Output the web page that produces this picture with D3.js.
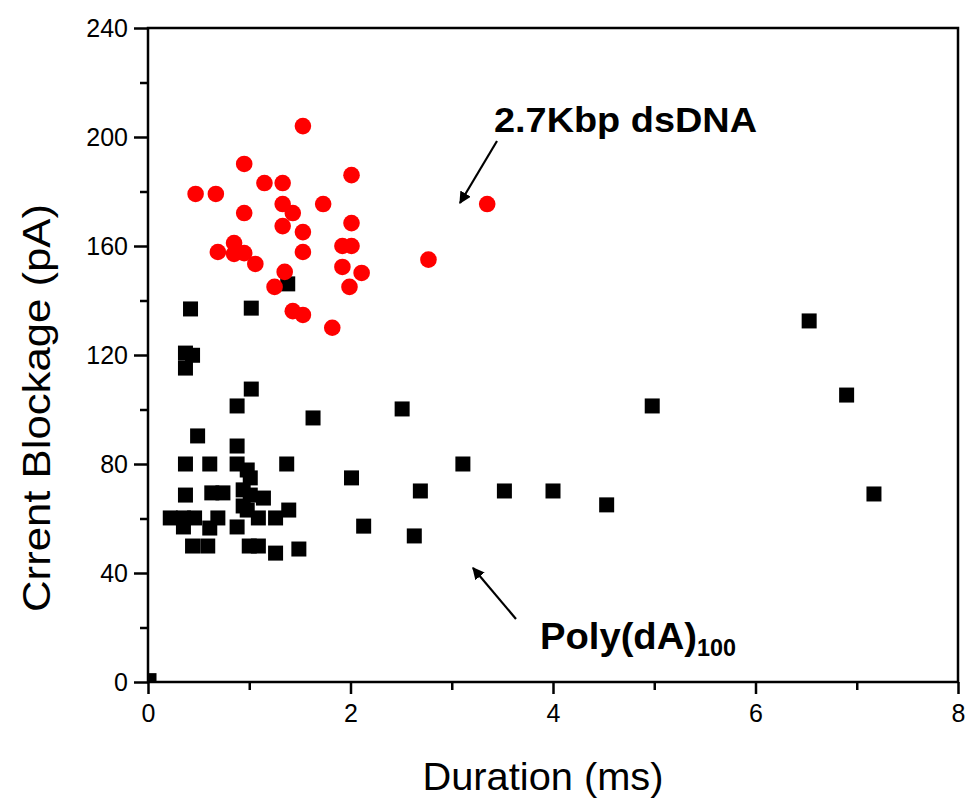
<!DOCTYPE html>
<html>
<head>
<meta charset="utf-8">
<script src="https://cdn.jsdelivr.net/npm/d3@7"></script>
<style>
  html, body { margin: 0; padding: 0; background: #fff; }
  svg { display: block; }
  text { font-family: "Liberation Sans", Arial, sans-serif; fill: #000; }
</style>
</head>
<body>
<div id="chart"></div>
<script>
// Event durations (ms) and current blockages (pA) for each analyte
const dsDNA_duration = [1.53, 0.95, 1.15, 1.33, 0.47, 0.67, 2.01, 1.33, 1.43, 1.73, 0.95, 1.33, 1.53, 2.01,
  0.69, 0.85, 0.85, 0.95, 1.06, 1.53, 1.92, 2.01, 1.92, 2.11, 1.99, 1.35, 1.25, 1.43, 1.53, 1.82, 2.77, 3.35];
const dsDNA_blockage = [204.0, 190.1, 183.1, 183.1, 179.1, 179.1, 186.0, 175.4, 172.1, 175.4, 172.1, 167.3, 165.1, 168.4,
  157.8, 161.1, 157.1, 157.4, 153.4, 157.8, 160.0, 160.0, 152.3, 150.1, 145.0, 150.5, 145.0, 136.1, 134.7, 130.0, 155.0, 175.4];

const polyA_duration = [0.42, 1.02, 1.38, 0.37, 0.44, 0.37, 1.02, 0.88, 1.63, 2.51, 0.49, 0.88, 0.37, 0.61, 0.88,
  0.98, 1.01, 1.37, 3.11, 2.01, 0.37, 0.63, 0.74, 0.94, 1.01, 1.14, 0.94, 0.22, 0.35, 0.46, 0.69, 0.35, 0.61,
  0.88, 0.98, 1.09, 1.26, 1.39, 2.13, 2.69, 2.63, 0.44, 0.59, 1.00, 1.09, 1.26, 1.49,
  3.52, 4.00, 4.53, 4.98, 6.53, 6.90, 7.17, 0.01];
const polyA_blockage = [136.9, 137.2, 146.1, 120.7, 119.9, 115.2, 107.5, 101.3, 96.9, 100.2, 90.3, 86.6, 80.0, 80.0, 80.0,
  77.8, 74.9, 80.0, 80.0, 74.9, 68.6, 69.4, 69.4, 70.5, 68.6, 67.5, 64.6, 60.2, 60.2, 60.2, 60.2, 56.9, 56.5,
  56.9, 63.1, 60.2, 60.2, 63.1, 57.2, 70.1, 53.6, 49.9, 49.9, 49.9, 49.9, 47.3, 48.8,
  70.1, 70.1, 65.0, 101.3, 132.5, 105.3, 69.0, 0.5];

const xTicks = [0, 2, 4, 6, 8];
const yTicks = [0, 40, 80, 120, 160, 200, 240];
const xMinorTicks = [1, 3, 5, 7];
const yMinorTicks = [20, 60, 100, 140, 180, 220];

const xLabel = "Duration (ms)";
const yLabel = "Crrent Blockage (pA)";
const dsLabel = "2.7Kbp dsDNA";
const polyLabel = "Poly(dA)";
const polySub = "100";

const W = 965, H = 802;
const plotLeft = 148, plotRight = 958, plotTop = 28, plotBottom = 682;

const svg = d3.select("#chart").append("svg").attr("width", W).attr("height", H);

const x = d3.scaleLinear().domain([0, 8]).range([plotLeft, plotRight]);
const y = d3.scaleLinear().domain([0, 240]).range([plotBottom, plotTop]);

const defs = svg.append("defs");
defs.append("clipPath").attr("id", "plotClip")
  .append("rect").attr("x", plotLeft).attr("y", plotTop)
  .attr("width", plotRight - plotLeft).attr("height", plotBottom - plotTop);

// Markers
const marks = svg.append("g").attr("clip-path", "url(#plotClip)");
const sq = 15;
marks.selectAll("rect.poly").data(d3.range(polyA_duration.length)).join("rect")
  .attr("class", "poly")
  .attr("x", i => x(polyA_duration[i]) - sq / 2)
  .attr("y", i => y(polyA_blockage[i]) - sq / 2)
  .attr("width", sq).attr("height", sq)
  .attr("fill", "#000");

marks.selectAll("circle.ds").data(d3.range(dsDNA_duration.length)).join("circle")
  .attr("class", "ds")
  .attr("cx", i => x(dsDNA_duration[i]))
  .attr("cy", i => y(dsDNA_blockage[i]))
  .attr("r", 8.3)
  .attr("fill", "#ff0000");

// Axes
const xAxis = svg.append("g").attr("transform", `translate(0,${plotBottom})`)
  .call(d3.axisBottom(x).tickValues(xTicks).tickSize(12).tickSizeOuter(0).tickFormat(d3.format("d")));
const xMinor = svg.append("g").attr("transform", `translate(0,${plotBottom})`)
  .call(d3.axisBottom(x).tickValues(xMinorTicks).tickSize(8).tickSizeOuter(0).tickFormat(""));
const yAxis = svg.append("g").attr("transform", `translate(${plotLeft},0)`)
  .call(d3.axisLeft(y).tickValues(yTicks).tickSize(14).tickSizeOuter(0).tickFormat(d3.format("d")));
const yMinor = svg.append("g").attr("transform", `translate(${plotLeft},0)`)
  .call(d3.axisLeft(y).tickValues(yMinorTicks).tickSize(8).tickSizeOuter(0).tickFormat(""));

[xAxis, xMinor, yAxis, yMinor].forEach(g => {
  g.select(".domain").remove();
  g.selectAll(".tick line").attr("stroke", "#000").attr("stroke-width", 2.5);
});
xAxis.selectAll(".tick text").attr("font-size", 25).attr("dy", null).attr("y", 40)
  .style("font-family", "'Liberation Sans', Arial, sans-serif");
yAxis.selectAll(".tick text").attr("font-size", 25).attr("x", -20).attr("dy", "0.35em")
  .style("font-family", "'Liberation Sans', Arial, sans-serif");

// Frame
svg.append("rect").attr("x", plotLeft).attr("y", plotTop)
  .attr("width", plotRight - plotLeft).attr("height", plotBottom - plotTop)
  .attr("fill", "none").attr("stroke", "#000").attr("stroke-width", 2.5);

// Axis titles
svg.append("text").attr("x", 543).attr("y", 790).attr("text-anchor", "middle")
  .attr("font-size", 38).attr("textLength", 241).attr("lengthAdjust", "spacingAndGlyphs").text(xLabel);
svg.append("text").attr("transform", "translate(50,408) rotate(-90)").attr("text-anchor", "middle")
  .attr("font-size", 38).attr("textLength", 408).attr("lengthAdjust", "spacingAndGlyphs").text(yLabel);

// Annotations
defs.append("marker").attr("id", "arrowHead").attr("viewBox", "0 0 10 10")
  .attr("refX", 9).attr("refY", 5).attr("markerWidth", 5.5).attr("markerHeight", 5.5)
  .attr("orient", "auto").attr("markerUnits", "strokeWidth")
  .append("path").attr("d", "M0,0 L10,5 L0,10 Z").attr("fill", "#000");

svg.append("text").attr("x", 494).attr("y", 132).attr("font-size", 35).attr("font-weight", "bold")
  .attr("textLength", 263).attr("lengthAdjust", "spacingAndGlyphs").text(dsLabel);
svg.append("line").attr("x1", 497).attr("y1", 141).attr("x2", 460).attr("y2", 203)
  .attr("stroke", "#000").attr("stroke-width", 2.2).attr("marker-end", "url(#arrowHead)");

const poly = svg.append("text").attr("x", 540).attr("y", 649).attr("font-size", 37).attr("font-weight", "bold");
poly.append("tspan").attr("textLength", 157).attr("lengthAdjust", "spacingAndGlyphs").text(polyLabel);
poly.append("tspan").attr("font-size", 24).attr("dy", 7).attr("textLength", 39)
  .attr("lengthAdjust", "spacingAndGlyphs").text(polySub);
svg.append("line").attr("x1", 516).attr("y1", 619).attr("x2", 473).attr("y2", 568)
  .attr("stroke", "#000").attr("stroke-width", 2.2).attr("marker-end", "url(#arrowHead)");
</script>
</body>
</html>
